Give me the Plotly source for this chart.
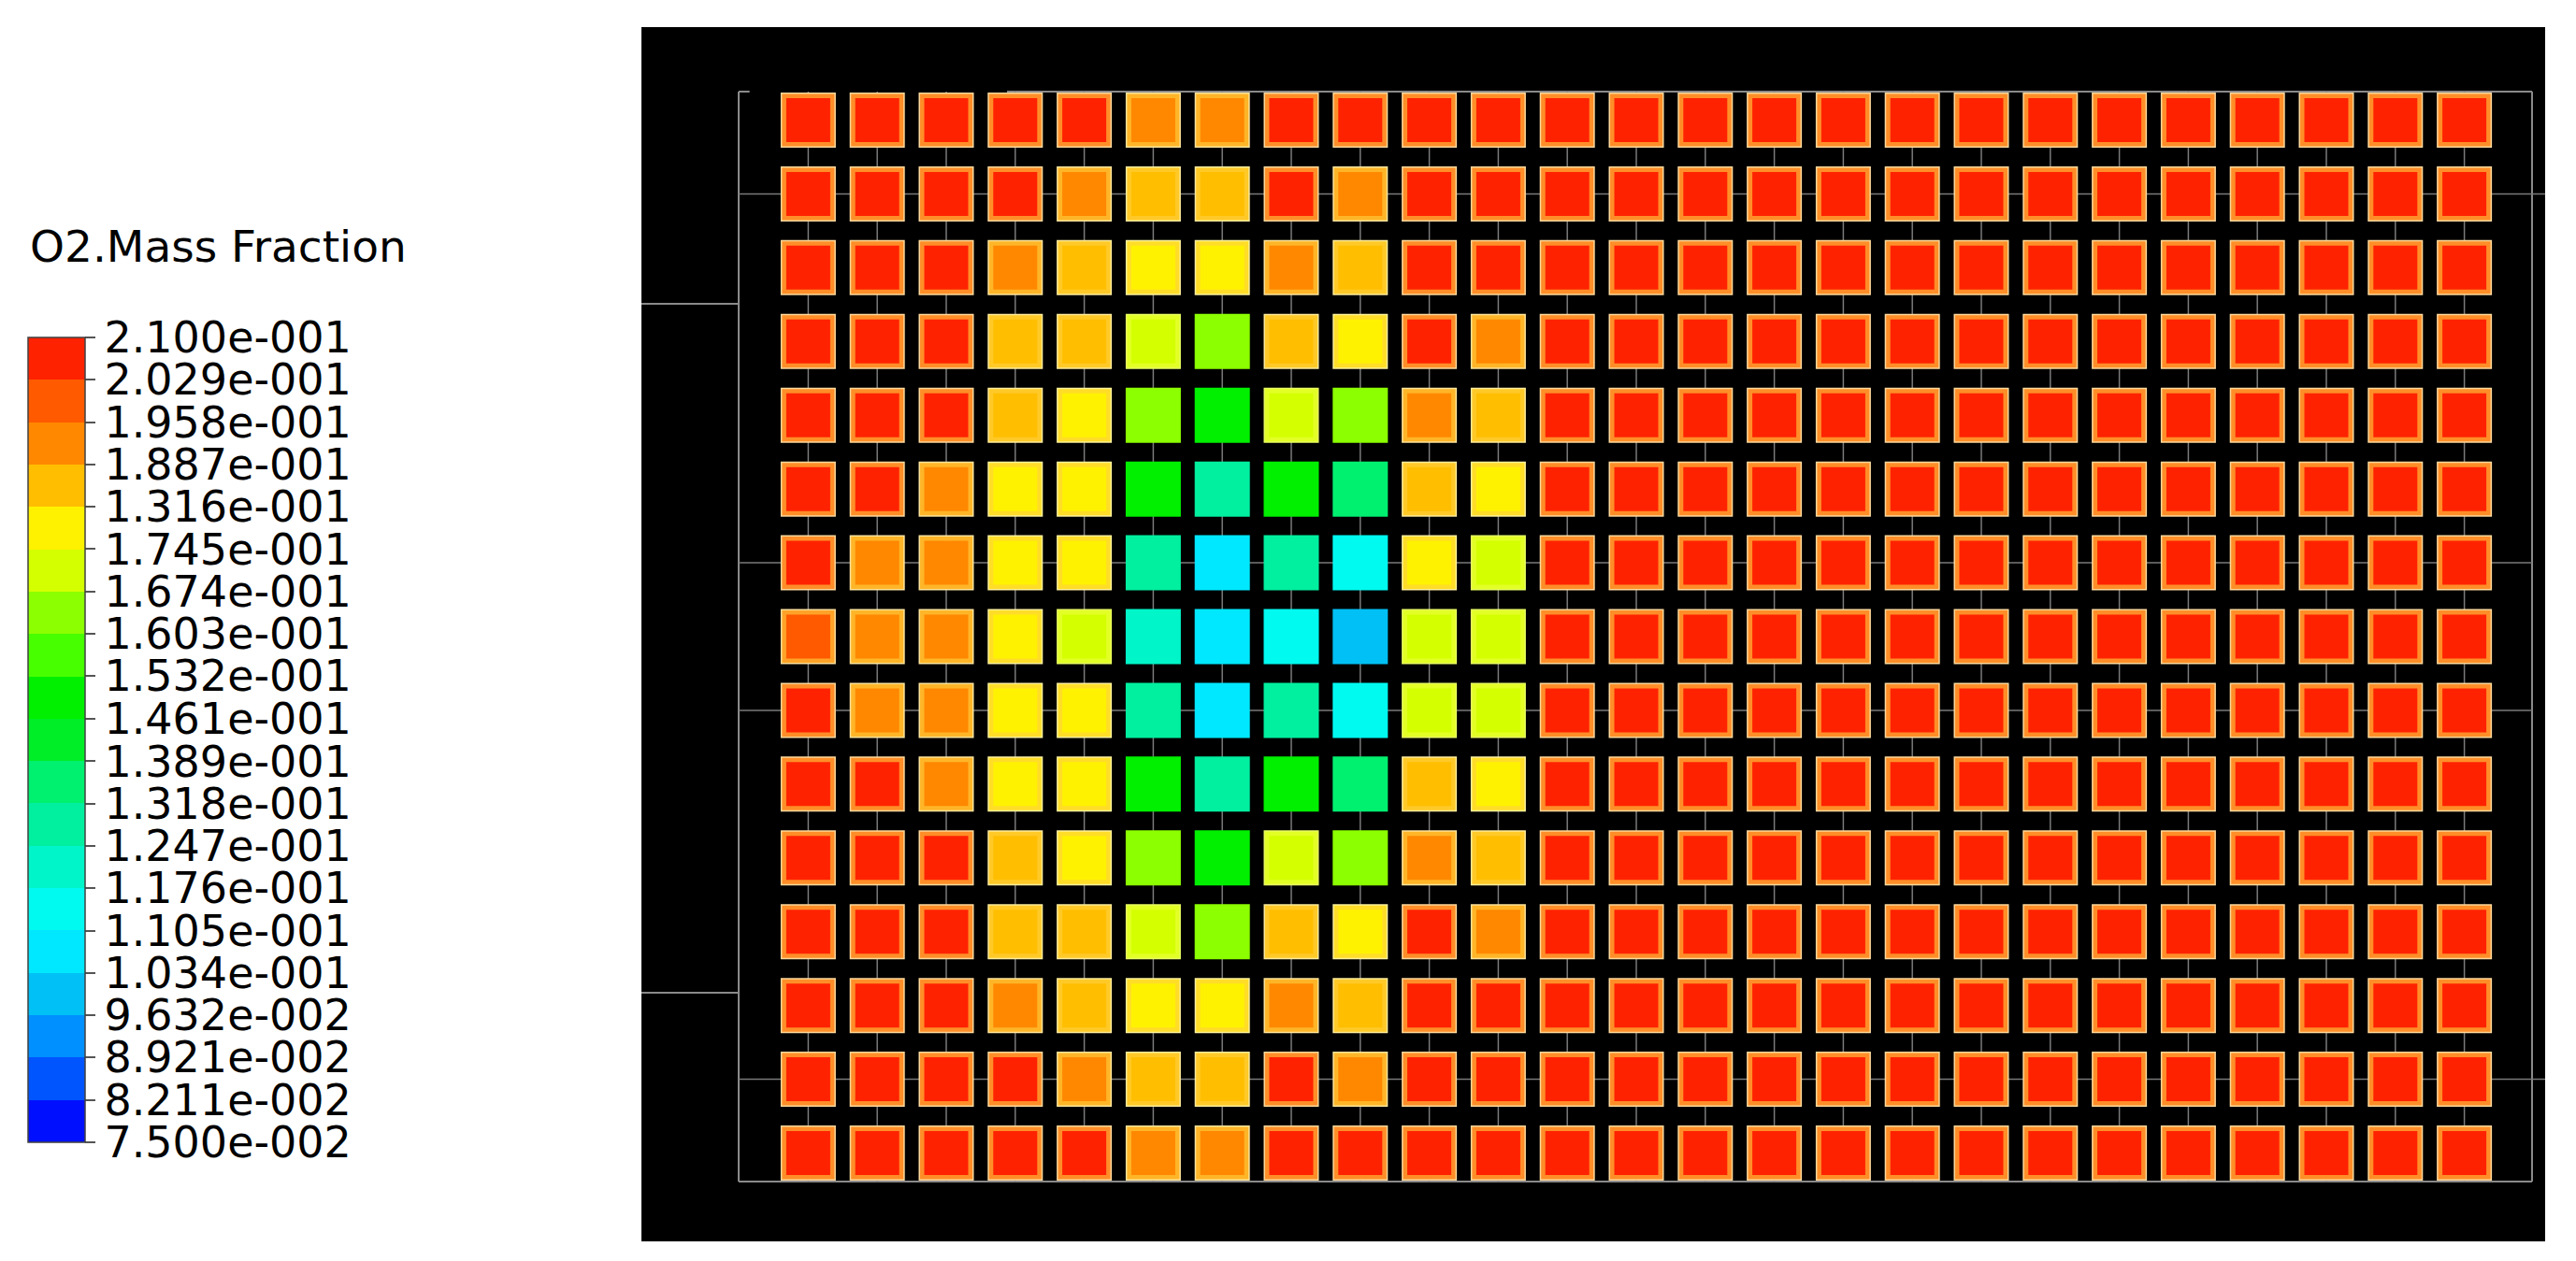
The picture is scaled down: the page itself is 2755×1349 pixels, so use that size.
import plotly.graph_objects as go

# The page body keeps the browser's default 8 px margin, so the figure is sized
# to fit the 2755 x 1349 window and every reference pixel position is shifted by it.
OFF = 8
W, H = 2755 - 2 * OFF, 1349 - 2 * OFF

# ---- colour legend: level boundaries and the labels printed next to them ----
levels = [0.075, 0.08211, 0.08921, 0.09632, 0.1034, 0.1105, 0.1176, 0.1247, 0.1318, 0.1389,
          0.1461, 0.1532, 0.1603, 0.1674, 0.1745, 0.1816, 0.1887, 0.1958, 0.2029, 0.21]
level_labels = ["7.500e-002", "8.211e-002", "8.921e-002", "9.632e-002", "1.034e-001",
                "1.105e-001", "1.176e-001", "1.247e-001", "1.318e-001", "1.389e-001",
                "1.461e-001", "1.532e-001", "1.603e-001", "1.674e-001", "1.745e-001",
                "1.316e-001", "1.887e-001", "1.958e-001", "2.029e-001", "2.100e-001"]
band_colors = ["#0010FF", "#0055FF", "#0090FF", "#00C0F5", "#00E8FF", "#00FAF0", "#00F5C8",
               "#00F0A0", "#00F070", "#00EE28", "#00F000", "#48FF00", "#8CFF00", "#D4FF00",
               "#FFF200", "#FFBE00", "#FF8800", "#FF5A00", "#FF2200"]
legend_title = "O2.Mass Fraction"

# ---- grid of cells (15 rows x 25 columns), O2 mass fraction per cell ----
columns = list(range(25))
rows = list(range(15))
o2_rows = [
    [0.2065, 0.2065, 0.2065, 0.2065, 0.2065, 0.1923, 0.1923, 0.2065, 0.2065, 0.2065, 0.2065, 0.2065, 0.2065, 0.2065, 0.2065, 0.2065, 0.2065, 0.2065, 0.2065, 0.2065, 0.2065, 0.2065, 0.2065, 0.2065, 0.2065],
    [0.2065, 0.2065, 0.2065, 0.2065, 0.1923, 0.1852, 0.1852, 0.2065, 0.1923, 0.2065, 0.2065, 0.2065, 0.2065, 0.2065, 0.2065, 0.2065, 0.2065, 0.2065, 0.2065, 0.2065, 0.2065, 0.2065, 0.2065, 0.2065, 0.2065],
    [0.2065, 0.2065, 0.2065, 0.1923, 0.1852, 0.1781, 0.1781, 0.1923, 0.1852, 0.2065, 0.2065, 0.2065, 0.2065, 0.2065, 0.2065, 0.2065, 0.2065, 0.2065, 0.2065, 0.2065, 0.2065, 0.2065, 0.2065, 0.2065, 0.2065],
    [0.2065, 0.2065, 0.2065, 0.1852, 0.1852, 0.1710, 0.1639, 0.1852, 0.1781, 0.2065, 0.1923, 0.2065, 0.2065, 0.2065, 0.2065, 0.2065, 0.2065, 0.2065, 0.2065, 0.2065, 0.2065, 0.2065, 0.2065, 0.2065, 0.2065],
    [0.2065, 0.2065, 0.2065, 0.1852, 0.1781, 0.1639, 0.1497, 0.1710, 0.1639, 0.1923, 0.1852, 0.2065, 0.2065, 0.2065, 0.2065, 0.2065, 0.2065, 0.2065, 0.2065, 0.2065, 0.2065, 0.2065, 0.2065, 0.2065, 0.2065],
    [0.2065, 0.2065, 0.1923, 0.1781, 0.1781, 0.1497, 0.1283, 0.1497, 0.1354, 0.1852, 0.1781, 0.2065, 0.2065, 0.2065, 0.2065, 0.2065, 0.2065, 0.2065, 0.2065, 0.2065, 0.2065, 0.2065, 0.2065, 0.2065, 0.2065],
    [0.2065, 0.1923, 0.1923, 0.1781, 0.1781, 0.1283, 0.1070, 0.1283, 0.1141, 0.1781, 0.1710, 0.2065, 0.2065, 0.2065, 0.2065, 0.2065, 0.2065, 0.2065, 0.2065, 0.2065, 0.2065, 0.2065, 0.2065, 0.2065, 0.2065],
    [0.1994, 0.1923, 0.1923, 0.1781, 0.1710, 0.1212, 0.1070, 0.1141, 0.0999, 0.1710, 0.1710, 0.2065, 0.2065, 0.2065, 0.2065, 0.2065, 0.2065, 0.2065, 0.2065, 0.2065, 0.2065, 0.2065, 0.2065, 0.2065, 0.2065],
    [0.2065, 0.1923, 0.1923, 0.1781, 0.1781, 0.1283, 0.1070, 0.1283, 0.1141, 0.1710, 0.1710, 0.2065, 0.2065, 0.2065, 0.2065, 0.2065, 0.2065, 0.2065, 0.2065, 0.2065, 0.2065, 0.2065, 0.2065, 0.2065, 0.2065],
    [0.2065, 0.2065, 0.1923, 0.1781, 0.1781, 0.1497, 0.1283, 0.1497, 0.1354, 0.1852, 0.1781, 0.2065, 0.2065, 0.2065, 0.2065, 0.2065, 0.2065, 0.2065, 0.2065, 0.2065, 0.2065, 0.2065, 0.2065, 0.2065, 0.2065],
    [0.2065, 0.2065, 0.2065, 0.1852, 0.1781, 0.1639, 0.1497, 0.1710, 0.1639, 0.1923, 0.1852, 0.2065, 0.2065, 0.2065, 0.2065, 0.2065, 0.2065, 0.2065, 0.2065, 0.2065, 0.2065, 0.2065, 0.2065, 0.2065, 0.2065],
    [0.2065, 0.2065, 0.2065, 0.1852, 0.1852, 0.1710, 0.1639, 0.1852, 0.1781, 0.2065, 0.1923, 0.2065, 0.2065, 0.2065, 0.2065, 0.2065, 0.2065, 0.2065, 0.2065, 0.2065, 0.2065, 0.2065, 0.2065, 0.2065, 0.2065],
    [0.2065, 0.2065, 0.2065, 0.1923, 0.1852, 0.1781, 0.1781, 0.1923, 0.1852, 0.2065, 0.2065, 0.2065, 0.2065, 0.2065, 0.2065, 0.2065, 0.2065, 0.2065, 0.2065, 0.2065, 0.2065, 0.2065, 0.2065, 0.2065, 0.2065],
    [0.2065, 0.2065, 0.2065, 0.2065, 0.1923, 0.1852, 0.1852, 0.2065, 0.1923, 0.2065, 0.2065, 0.2065, 0.2065, 0.2065, 0.2065, 0.2065, 0.2065, 0.2065, 0.2065, 0.2065, 0.2065, 0.2065, 0.2065, 0.2065, 0.2065],
    [0.2065, 0.2065, 0.2065, 0.2065, 0.2065, 0.1923, 0.1923, 0.2065, 0.2065, 0.2065, 0.2065, 0.2065, 0.2065, 0.2065, 0.2065, 0.2065, 0.2065, 0.2065, 0.2065, 0.2065, 0.2065, 0.2065, 0.2065, 0.2065, 0.2065],
]
# rows that carry a horizontal mesh line through the gaps
mesh_rows = [1, 6, 8, 13]

# ---------------------------------------------------------------------------
vmin, vmax = levels[0], levels[-1]
nb = len(band_colors)
step = (vmax - vmin) / nb


def hex2rgb(h):
    h = h.lstrip("#")
    return tuple(int(h[i:i + 2], 16) for i in (0, 2, 4))


def mix(c1, c2, t):
    a, b = hex2rgb(c1), hex2rgb(c2)
    return "#%02X%02X%02X" % tuple(round(a[i] * (1 - t) + b[i] * t) for i in range(3))


def band_of(v):
    return max(0, min(nb - 1, int((v - vmin) / step)))


def fx(p):  # reference pixel x -> figure paper fraction
    return (p - OFF) / W


def fy(p):  # reference pixel y -> figure paper fraction
    return 1 - (p - OFF) / H


colorscale = []
for i, c in enumerate(band_colors):
    colorscale.append([i / nb, c])
    colorscale.append([(i + 1) / nb, c])

xs, ys, vals, ring, outer = [], [], [], [], []
for r, row in zip(rows, o2_rows):
    for c, v in zip(columns, row):
        xs.append(c)
        ys.append(r)
        vals.append(v)
        b = band_of(v)
        fill = band_colors[b]
        if b >= 14:
            ring.append(mix(fill, "#FFD040", 0.62))
            outer.append(mix(fill, "#FFF2B0", 0.88))
        elif b == 13:
            ring.append(mix(fill, "#F8FF60", 0.4))
            outer.append(mix(fill, "#FFFFC0", 0.5))
        else:
            ring.append(fill)
            outer.append(fill)

# pixel geometry of the dark panel (reference pixels)
px_l, px_r, px_t, px_b = 686, 2722, 29, 1328
col0_px, col_dx = 864.4, 73.8
row0_px, row_dy = 128.5, 78.93
x0 = -(col0_px - px_l) / col_dx
x1 = x0 + (px_r - px_l) / col_dx
yt = -(row0_px - px_t) / row_dy
yb = yt + (px_b - px_t) / row_dy

fl, fr = (790 - col0_px) / col_dx, (2708 - col0_px) / col_dx
ft, fb = (98 - row0_px) / row_dy, (1264 - row0_px) / row_dy

# mesh lines
mx, my = [], []
for c in columns:
    mx += [c, c, None]
    my += [ft, fb, None]
for r in mesh_rows:
    end = x1 if r in (1, 13) else fr
    mx += [fl, end, None]
    my += [r, r, None]

fig = go.Figure()
fig.add_trace(go.Scatter(x=mx, y=my, mode="lines", line=dict(color="#7a7a7a", width=1.5),
                         hoverinfo="skip", showlegend=False))
fig.add_trace(go.Scatter(x=xs, y=ys, mode="markers", hoverinfo="skip", showlegend=False,
                         marker=dict(symbol="square", size=59, color=outer, line=dict(width=0))))
fig.add_trace(go.Scatter(x=xs, y=ys, mode="markers", hoverinfo="skip", showlegend=False,
                         marker=dict(symbol="square", size=56, color=ring, line=dict(width=0))))
fig.add_trace(go.Scatter(
    x=xs, y=ys, mode="markers", showlegend=False,
    marker=dict(
        symbol="square", size=47, color=vals, colorscale=colorscale, cmin=vmin, cmax=vmax,
        line=dict(width=0), showscale=True,
        colorbar=dict(
            x=fx(30), xanchor="left", xpad=0, y=fy(361), yanchor="top", ypad=0,
            len=861, lenmode="pixels", thickness=61, thicknessmode="pixels",
            outlinewidth=1.5, outlinecolor="#404040", borderwidth=0,
            tickmode="array", tickvals=levels, ticktext=level_labels,
            ticks="outside", ticklen=11, tickwidth=1.5, tickcolor="#555555",
            tickfont=dict(family="DejaVu Sans", size=46, color="black"),
        ),
    ),
    hovertemplate="%{marker.color:.4f}<extra></extra>",
))

frame_lines = [
    (fl, ft, fl, fb), (fl, fb, fr, fb), (fr, ft, fr, fb), (2.88, ft, fr, ft), (fl, ft, -0.85, ft),
    (x0, (325 - row0_px) / row_dy, fl, (325 - row0_px) / row_dy),
    (x0, (1062 - row0_px) / row_dy, fl, (1062 - row0_px) / row_dy),
]
shapes = [dict(type="line", xref="x", yref="y", x0=a, y0=b, x1=c, y1=d, layer="below",
               line=dict(color="#8a8a8a", width=2)) for a, b, c, d in frame_lines]

fig.update_layout(
    width=W, height=H, margin=dict(l=0, r=0, t=0, b=0, autoexpand=False),
    paper_bgcolor="white", plot_bgcolor="black",
    xaxis=dict(domain=[fx(px_l), fx(px_r)], range=[x0, x1], visible=False, fixedrange=True),
    yaxis=dict(domain=[fy(px_b), fy(px_t)], range=[yb, yt], visible=False, fixedrange=True),
    shapes=shapes,
    annotations=[dict(text=legend_title, x=fx(30), y=fy(263), xref="paper", yref="paper",
                      xanchor="left", yanchor="middle", showarrow=False,
                      font=dict(family="DejaVu Sans", size=47, color="black"))],
    showlegend=False,
)

fig.write_html("out.html")
